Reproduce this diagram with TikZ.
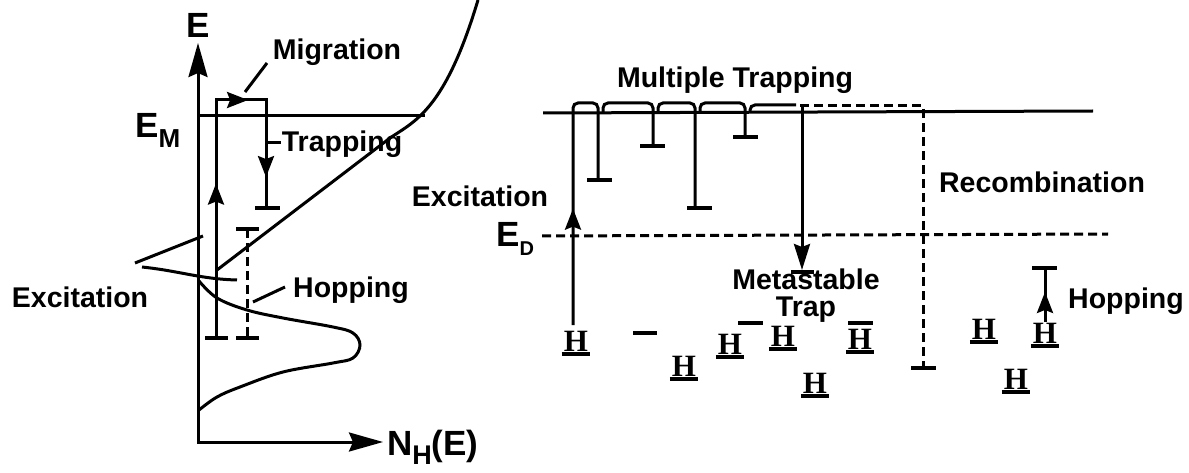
\documentclass[tikz,border=0pt]{standalone}
\usepackage{fontspec}
\setmainfont{Liberation Sans}
\newfontfamily\serifH{Liberation Serif}
\usetikzlibrary{arrows.meta,decorations.markings}
\tikzset{
  ln/.style={line width=3pt},
  barln/.style={line width=4pt},
  dsh/.style={line width=3pt,dash pattern=on 9pt off 5pt},
  lbl/.style={inner sep=0pt,anchor=base,font=\fontsize{28.5}{28.5}\selectfont\bfseries},
  axl/.style={inner sep=0pt,font=\fontsize{35}{35}\selectfont\bfseries},
  hs/.style={inner sep=0pt,anchor=south,font=\serifH\fontsize{31}{31}\selectfont\bfseries},
  mtip/.tip={Stealth[length=21pt,width=16pt,inset=3pt]},
  axtip/.tip={Stealth[length=34pt,width=19pt,inset=4pt]},
  onemark/.style={postaction={decorate},decoration={markings,mark=at position #1 with {\arrow{mtip}}}},
}
\newcommand\ubar[1]{\draw[barln] ([xshift=-2pt,yshift=-2pt]#1.south west) -- ([xshift=2pt,yshift=-2pt]#1.south east);}
\begin{document}
\begin{tikzpicture}[x=1pt,y=-1pt]
\useasboundingbox (0,0) rectangle (1189,473);
% ---------------- left diagram ----------------
\coordinate (Etip) at (198,43);
\coordinate (O) at (198,442);
\coordinate (Ntip) at (383,442);
\draw[ln,{axtip}-{axtip}] (Etip) -- (O) -- (Ntip);
\node[axl,anchor=base] (Elbl) at (198,38) {E};
\node[axl,anchor=base west] (EM) at (135,138) {E\raisebox{-10pt}{\fontsize{26}{26}\selectfont M}};
\node[axl,anchor=base west] (NH) at (387,455) {N\raisebox{-9pt}{\fontsize{27}{27}\selectfont H}(E)};
% E_M level
\coordinate (EMa) at (198,116);
\coordinate (EMb) at (425,116);
\draw[ln] (EMa) -- (EMb);
% band tail
\draw[ln] (217,270) -- (390,138) .. controls (415,121) and (445,110) .. (478,0);
% density of localized states
\draw[ln] plot[smooth,tension=0.6] coordinates {(199,281) (217,298) (247,310) (283,318) (333,327) (353,333) (360,345) (353,358) (333,363) (283,372) (240,387) (217,397) (199,410)};
% excitation leaders
\draw[ln] (135,263) -- (203,236);
\draw[ln] (142,267) .. controls (180,271) and (200,279) .. (237,280);
% excitation / migration / trapping path
\coordinate (lxb) at (216,338);
\coordinate (lxt) at (216,100);
\coordinate (lmr) at (266,100);
\coordinate (ltb) at (266,208);
\draw[ln,postaction={decorate},decoration={markings,
  mark=at position 0.39 with {\arrow{mtip}},
  mark=at position 0.682 with {\arrow{mtip}},
  mark=at position 0.922 with {\arrow{mtip}}}]
  (lxb) -- (lxt) -- (lmr) -- (ltb);
\draw[barln] ([xshift=-11pt]lxb) -- ([xshift=12pt]lxb);
\draw[barln] ([xshift=-11pt]ltb) -- ([xshift=14pt]ltb);
% hopping (left)
\coordinate (lht) at (247,229);
\coordinate (lhb) at (247,338);
\draw[dsh] (lht) -- (lhb);
\draw[barln] ([xshift=-11pt]lht) -- ([xshift=12pt]lht);
\draw[barln] ([xshift=-11pt]lhb) -- ([xshift=12pt]lhb);
% labels left
\node[lbl] (mig) at (337,60) {Migration};
\coordinate (migA) at (245,92);
\coordinate (migB) at (267,63);
\draw[ln] (migA) -- (migB);
\node[lbl] (trp) at (342,152) {Trapping};
\coordinate (trpA) at (267,143);
\coordinate (trpB) at (281,143);
\draw[ln] (trpA) -- (trpB);
\node[lbl] (excL) at (80,307) {Excitation};
\node[lbl] (hopL) at (351,297) {Hopping};
\coordinate (hopA) at (253,302);
\coordinate (hopB) at (285,287);
\draw[ln] (hopA) -- (hopB);
% ---------------- right diagram ----------------
\coordinate (mA) at (543,113);
\coordinate (mB) at (1093,111);
\draw[ln] (mA) -- (mB);
\node[lbl] (mult) at (735,88) {Multiple Trapping};
% excitation and multiple trapping
\draw[ln,rounded corners=5pt,onemark=0.364] (573,325) -- (573,103) -- (598,103) -- (598,180);
\draw[ln,rounded corners=5pt] (603,113) -- (603,103) -- (653,103) -- (653,146);
\draw[ln,rounded corners=5pt] (658,113) -- (658,103) -- (695,103) -- (695,208);
\draw[ln,rounded corners=5pt] (700,113) -- (700,103) -- (745,103) -- (745,137);
\draw[ln,rounded corners=5pt] (750,113) -- (750,105) -- (796,105);
\draw[barln] (587,180) -- (612,180);
\draw[barln] (640,146) -- (665,146);
\draw[barln] (687,208) -- (712,208);
\draw[barln] (733,137) -- (758,137);
% recombination path
\coordinate (rc) at (923,368);
\draw[dsh] (800,106) -- (923,106) -- (rc);
\draw[barln] ([xshift=-12pt]rc) -- ([xshift=13pt]rc);
% metastable trap
\coordinate (msT) at (802,106);
\coordinate (msB) at (802,270);
\draw[ln,-{Stealth[length=26pt,width=16pt,inset=3pt]}] (msT) -- (msB);
\draw[barln] (791,272) -- (814,272);
% E_D level
\coordinate (edA) at (542,236);
\coordinate (edB) at (1108,234);
\draw[dsh] (edA) -- (edB);
\node[axl,anchor=base west] (ED) at (496,247) {E\raisebox{-9pt}{\fontsize{20}{20}\selectfont D}};
% labels right
\node[lbl] (excR) at (480,207) {Excitation};
\node[lbl] (rec) at (1042,193) {Recombination};
\node[lbl] (meta) at (806,290) {Metastable};
\node[lbl] (trap) at (806,316) {Trap};
\node[lbl,anchor=base west] (hopR) at (1068,308) {Hopping};
% H sites
\node[hs] (ha) at (576,352) {H}; \ubar{ha}
\node[hs] (hc) at (684,377) {H}; \ubar{hc}
\node[hs] (hd) at (730,355) {H}; \ubar{hd}
\node[hs] (he) at (783,347) {H}; \ubar{he}
\node[hs] (hf) at (860,350) {H}; \ubar{hf}
\node[hs] (hg) at (815,394) {H}; \ubar{hg}
\node[hs] (hh) at (984,340) {H}; \ubar{hh}
\node[hs] (hi) at (1016,390) {H}; \ubar{hi}
\node[hs] (hj) at (1045,344) {H}; \ubar{hj}
\draw[barln] (848,323) -- (873,323);
% empty trap levels
\draw[barln] (633,333) -- (657,333);
\draw[barln] (738,323) -- (763,323);
% hopping (right)
\coordinate (hjT) at (1045,268);
\coordinate (hjB) at (1045,322);
\draw[ln,onemark=0.556] (hjB) -- (hjT);
\draw[barln] (1032,268) -- (1057,268);
\end{tikzpicture}
\end{document}
